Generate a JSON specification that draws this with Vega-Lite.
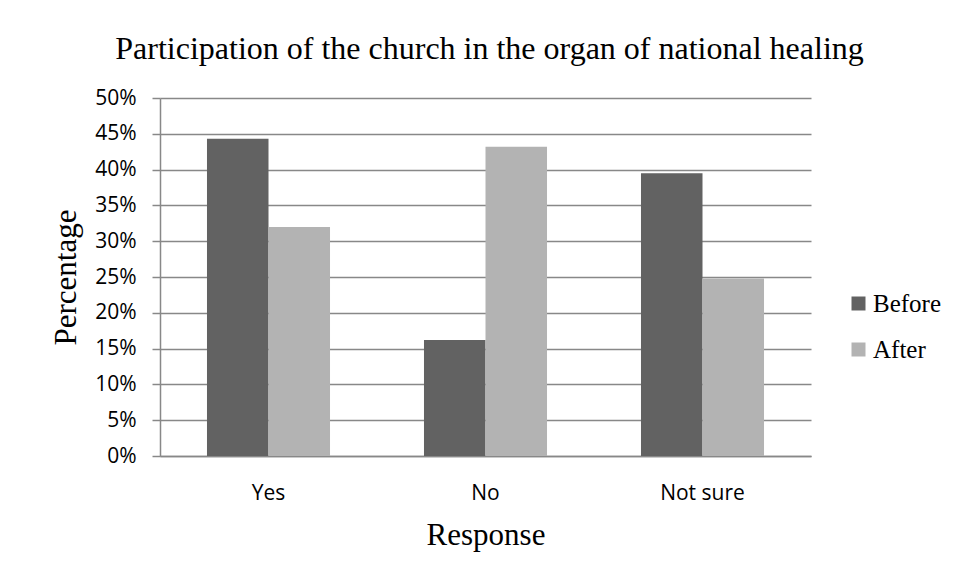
{
  "$schema": "https://vega.github.io/schema/vega-lite/v6.json",
  "autosize": {"type": "none"},
  "width": 651,
  "height": 358,
  "padding": {"left": 160, "top": 98, "right": 150, "bottom": 122},
  "background": "white",
  "title": {
    "text": "Participation of the church in the organ of national healing",
    "font": "Liberation Serif",
    "fontSize": 32,
    "fontWeight": "normal",
    "color": "black",
    "anchor": "middle",
    "frame": "group",
    "baseline": "alphabetic",
    "offset": -4,
    "dx": 4
  },
  "data": {
    "values": [
      {"response": "Yes", "period": "Before", "value": 0.443},
      {"response": "Yes", "period": "After", "value": 0.320},
      {"response": "No", "period": "Before", "value": 0.162},
      {"response": "No", "period": "After", "value": 0.432},
      {"response": "Not sure", "period": "Before", "value": 0.395},
      {"response": "Not sure", "period": "After", "value": 0.248}
    ]
  },
  "mark": {"type": "bar"},
  "encoding": {
    "x": {
      "field": "response",
      "type": "nominal",
      "sort": ["Yes", "No", "Not sure"],
      "scale": {"paddingInner": 0.433, "paddingOuter": 0.2165},
      "axis": {
        "title": "Response",
        "titleFont": "Liberation Serif",
        "titleFontSize": 31,
        "titleFontWeight": "normal",
        "titleColor": "black",
        "titleBaseline": "alphabetic",
        "titleY": 88,
        "labelFont": "Open Sans",
        "labelFontSize": 21,
        "labelColor": "black",
        "labelAngle": 0,
        "labelBaseline": "alphabetic",
        "labelPadding": 43,
        "ticks": false,
        "tickSize": 0,
        "domainColor": "#888888",
        "domainWidth": 1.5,
        "grid": false
      }
    },
    "xOffset": {
      "field": "period",
      "type": "nominal",
      "sort": ["Before", "After"],
      "scale": {"paddingInner": 0, "paddingOuter": 0}
    },
    "y": {
      "field": "value",
      "type": "quantitative",
      "scale": {"domain": [0, 0.5], "nice": false},
      "axis": {
        "title": "Percentage",
        "titleFont": "Liberation Serif",
        "titleFontSize": 31,
        "titleFontWeight": "normal",
        "titleColor": "black",
        "titleBaseline": "alphabetic",
        "titleX": -85,
        "titleY": 179,
        "titleAngle": -90,
        "titleAlign": "center",
        "values": [0, 0.05, 0.1, 0.15, 0.2, 0.25, 0.3, 0.35, 0.4, 0.45, 0.5],
        "format": ".0%",
        "labelFont": "Open Sans",
        "labelFontSize": 21,
        "labelColor": "black",
        "labelPadding": 16,
        "tickSize": 8,
        "tickColor": "#888888",
        "tickWidth": 1.5,
        "domainColor": "#888888",
        "domainWidth": 1.5,
        "grid": true,
        "gridColor": "#888888",
        "gridWidth": 1.5
      }
    },
    "color": {
      "field": "period",
      "type": "nominal",
      "sort": ["Before", "After"],
      "scale": {"domain": ["Before", "After"], "range": ["#626262", "#b3b3b3"]},
      "legend": {
        "title": null,
        "orient": "none",
        "legendX": 686,
        "legendY": 193,
        "padding": 0,
        "symbolType": "square",
        "symbolSize": 196,
        "symbolStrokeWidth": 0,
        "labelFont": "Liberation Serif",
        "labelFontSize": 25,
        "labelColor": "black",
        "labelOffset": 2,
        "rowPadding": 20
      }
    }
  },
  "config": {
    "view": {"stroke": null},
    "axis": {"gridOpacity": 1}
  }
}
